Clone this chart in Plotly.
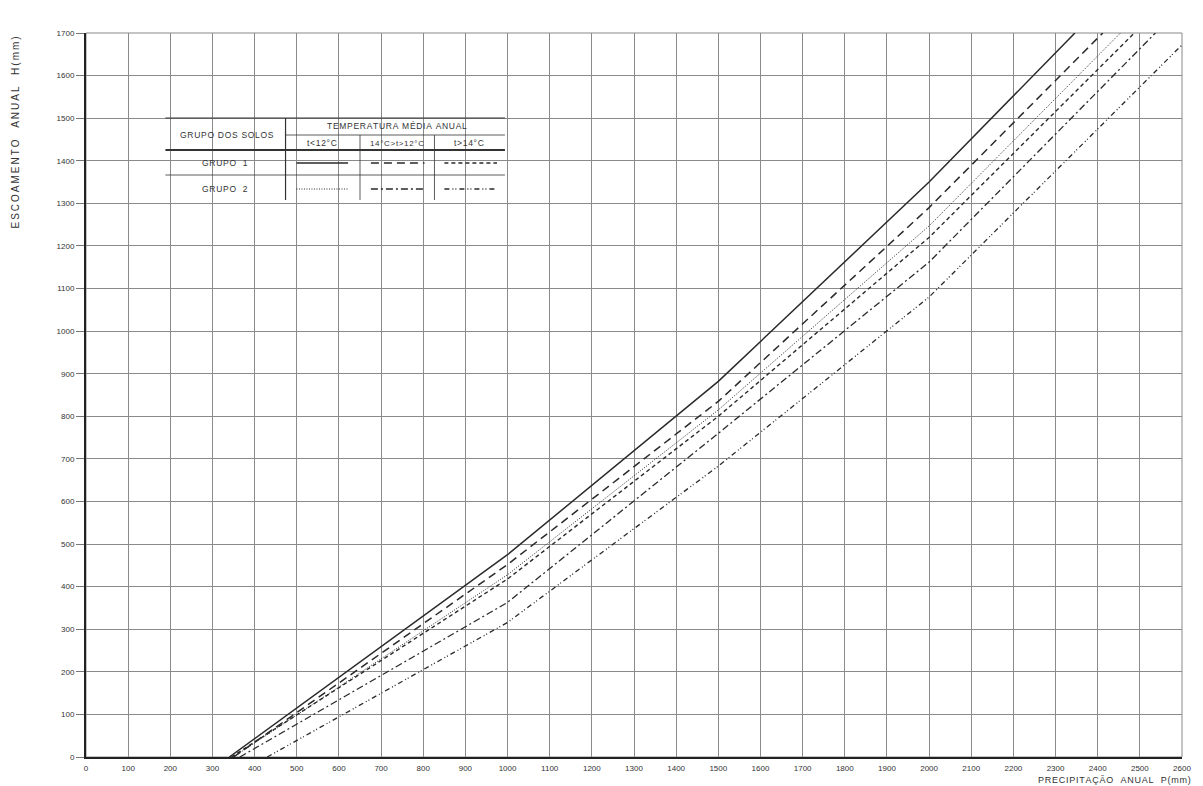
import plotly.graph_objects as go

# ---- data ----
P_g1_lt12 = [340, 1000, 1500, 2000, 2346]
H_g1_lt12 = [0, 475, 882, 1350, 1700]

P_g1_12_14 = [350, 1000, 1500, 2000, 2412]
H_g1_12_14 = [0, 452, 835, 1290, 1700]

P_g1_gt14 = [345, 1000, 1500, 2000, 2487]
H_g1_gt14 = [0, 418, 800, 1220, 1700]

P_g2_lt12 = [350, 1000, 1500, 2000, 2454]
H_g2_lt12 = [0, 428, 815, 1247, 1700]

P_g2_12_14 = [365, 1000, 1500, 2000, 2537]
H_g2_12_14 = [0, 363, 760, 1162, 1700]

P_g2_gt14 = [430, 1000, 1500, 2000, 2600]
H_g2_gt14 = [0, 316, 683, 1080, 1672]

x_ticks = list(range(0, 2601, 100))
y_ticks = list(range(0, 1701, 100))

LINE = "#2a2a2a"
series = [
    ("Grupo 1, t<12°C", P_g1_lt12, H_g1_lt12, "solid", 1.5),
    ("Grupo 1, 14°C>t>12°C", P_g1_12_14, H_g1_12_14, "8px,5px", 1.5),
    ("Grupo 1, t>14°C", P_g1_gt14, H_g1_gt14, "4px,3px", 1.4),
    ("Grupo 2, t<12°C", P_g2_lt12, H_g2_lt12, "1px,1.5px", 1.0),
    ("Grupo 2, 14°C>t>12°C", P_g2_12_14, H_g2_12_14, "7px,3px,2px,3px", 1.3),
    ("Grupo 2, t>14°C", P_g2_gt14, H_g2_gt14, "5px,3px,1px,2px,1px,3px", 1.3),
]

fig = go.Figure()
for name, xs, ys, dash, w in series:
    fig.add_trace(go.Scatter(x=xs, y=ys, mode="lines", name=name,
                             line=dict(color=LINE, width=w, dash=dash),
                             showlegend=False, hoverinfo="x+y+name"))

FONT = "Liberation Sans"
L, R, T, B = 86, 13, 33, 29
W, H = 1203, 786
PW, PH = W - L - R, H - T - B


def px(xp):
    return (xp - L) / PW


def py(yp):
    return (H - B - yp) / PH


def spaced(s, sep="\u200a"):
    return sep.join(s)


shapes = []
ann = []


def hline(x0, x1, y, w=1.0):
    shapes.append(dict(type="line", xref="paper", yref="paper", x0=px(x0), x1=px(x1),
                       y0=py(y), y1=py(y), line=dict(color="#333", width=w)))


def vline(x, y0, y1, w=1.0):
    shapes.append(dict(type="line", xref="paper", yref="paper", x0=px(x), x1=px(x),
                       y0=py(y0), y1=py(y1), line=dict(color="#333", width=w)))


def sample(x0, x1, y, dash, w):
    shapes.append(dict(type="line", xref="paper", yref="paper", x0=px(x0), x1=px(x1),
                       y0=py(y), y1=py(y), line=dict(color=LINE, width=w, dash=dash)))


def text(x, y, s, size=8.5):
    ann.append(dict(xref="paper", yref="paper", x=px(x), y=py(y), text=spaced(s), showarrow=False,
                    font=dict(family=FONT, size=size, color="#333"), xanchor="center", yanchor="middle"))


hline(166, 508, 118)
hline(287, 508, 135, 0.8)
hline(166, 508, 150, 1.8)
hline(166, 508, 175, 0.8)
vline(287, 118, 200, 1.2)
vline(362, 135, 200, 0.8)
vline(437, 135, 200, 0.8)

text(228, 135, "GRUPO DOS SOLOS")
text(399, 126, "TEMPERATURA MÉDIA ANUAL")
text(324, 143, "t<12°C")
text(399, 143, "14°C>t>12°C", 8)
text(472, 143, "t>14°C")
text(226, 163, "GRUPO  1")
text(226, 189, "GRUPO  2")

cells = [(298, 350, 163), (373, 427, 163), (447, 500, 163),
         (298, 350, 189), (373, 427, 189), (447, 500, 189)]
for (x0, x1, yy), (_, _, _, dash, w) in zip(cells, series):
    sample(x0, x1, yy, dash, w)

# axis titles
ann.append(dict(xref="paper", yref="paper", x=px(14), y=py(35),
                text=spaced("ESCOAMENTO  ANUAL  H(mm)", "\u2009"),
                textangle=-90, showarrow=False, xanchor="center", yanchor="top",
                font=dict(family=FONT, size=10, color="#333")))
ann.append(dict(xref="paper", yref="paper", x=px(1201), y=py(780),
                text=spaced("PRECIPITAÇÃO  ANUAL  P(mm)"),
                showarrow=False, xanchor="right", yanchor="middle",
                font=dict(family=FONT, size=9, color="#333")))

fig.update_layout(
    width=W, height=H,
    margin=dict(l=L, r=R, t=T, b=B),
    paper_bgcolor="white", plot_bgcolor="white",
    shapes=shapes, annotations=ann,
    font=dict(family=FONT, size=7.5, color="#333"),
)
fig.update_xaxes(range=[0, 2600], tickvals=x_ticks, ticktext=[str(v) for v in x_ticks],
                 showgrid=True, gridcolor="#8a8a8a", gridwidth=1,
                 showline=True, linecolor="#222", linewidth=2, mirror=False,
                 zeroline=False, ticks="", ticklabelstandoff=2,
                 tickfont=dict(family=FONT, size=8, color="#333"))
fig.update_yaxes(range=[0, 1700], tickvals=y_ticks, ticktext=[str(v) for v in y_ticks],
                 showgrid=True, gridcolor="#8a8a8a", gridwidth=1,
                 showline=True, linecolor="#222", linewidth=2,
                 zeroline=False, ticks="outside", ticklen=8, tickcolor="#777",
                 tickfont=dict(family=FONT, size=8, color="#333"))
fig.add_shape(type="rect", xref="paper", yref="paper", x0=0, x1=1, y0=0, y1=1,
              line=dict(color="#888", width=1), layer="below")

fig.write_html("out.html", config={"displayModeBar": False},
               post_script="document.body.style.margin='0';")
